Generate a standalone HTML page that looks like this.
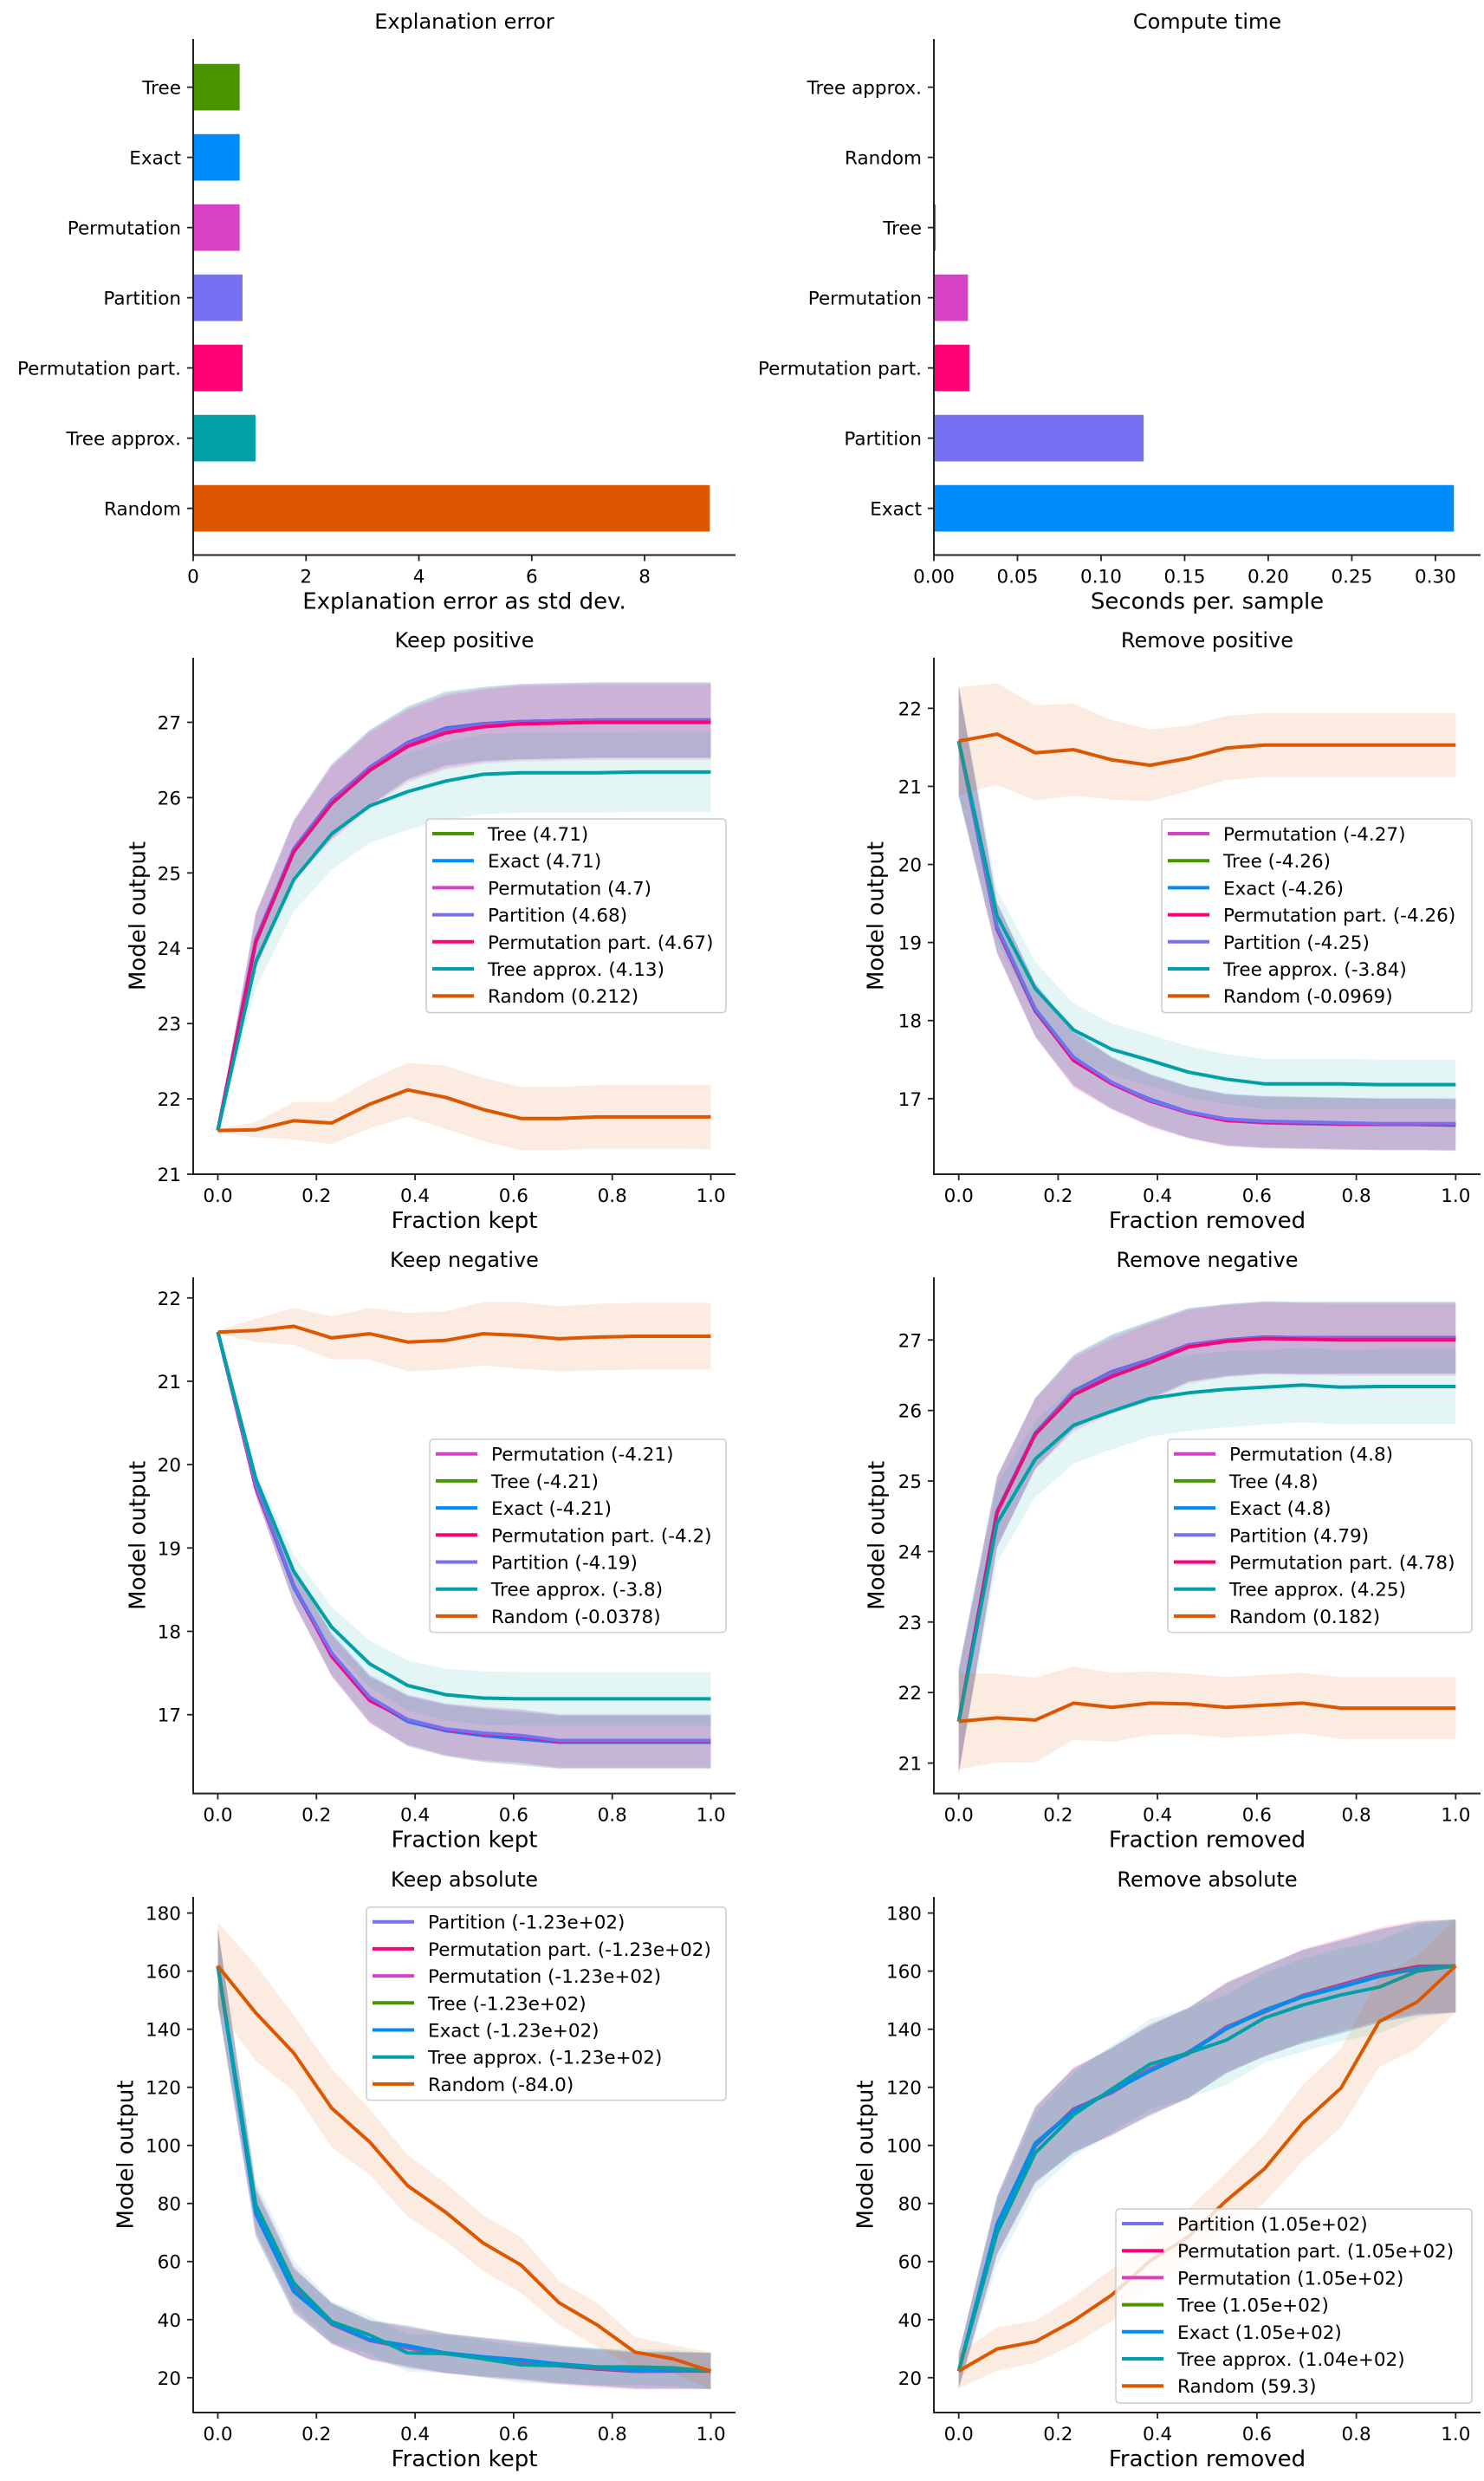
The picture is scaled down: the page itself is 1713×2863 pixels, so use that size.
<!DOCTYPE html>
<html><head><meta charset="utf-8"><style>
html,body{margin:0;padding:0;background:#fff;}
svg{display:block;font-family:"DejaVu Sans","Liberation Sans",sans-serif;}
</style></head><body>
<svg id="fig" width="1713" height="2863" viewBox="0 0 1713 2863" xmlns="http://www.w3.org/2000/svg"></svg>
<script>
// ---------- data ----------
const COLORS = {"Tree":"#489500","Exact":"#008bfb","Permutation":"#d642c3","Partition":"#7571f2","Permutation part.":"#ff0077","Tree approx.":"#00a0a8","Random":"#dd5700"};
const errCats = ["Tree","Exact","Permutation","Partition","Permutation part.","Tree approx.","Random"];
const errVals = [0.83,0.83,0.83,0.88,0.88,1.11,9.16];
const errTicks = [0,2,4,6,8];
const timeCats = ["Tree approx.","Random","Tree","Permutation","Permutation part.","Partition","Exact"];
const timeVals = [0.0003,0.0002,0.0013,0.0206,0.0214,0.1257,0.3113];
const timeTicks = [0,0.05,0.10,0.15,0.20,0.25,0.30];
const timeTickLabels = ["0.00","0.05","0.10","0.15","0.20","0.25","0.30"];
const fracX = [0,0.077,0.154,0.231,0.308,0.385,0.462,0.538,0.615,0.692,0.769,0.846,0.923,1.0];
const fracTicks = [0,0.2,0.4,0.6,0.8,1.0];
const fracTickLabels = ["0.0","0.2","0.4","0.6","0.8","1.0"];

// Keep positive
const kpTree = [21.58,24.11,25.31,25.95,26.40,26.73,26.92,26.98,27.01,27.02,27.03,27.03,27.03,27.03];
const kpExact = [21.58,24.11,25.31,25.95,26.40,26.73,26.92,26.98,27.01,27.02,27.03,27.03,27.03,27.03];
const kpPerm = [21.58,24.10,25.30,25.94,26.38,26.70,26.88,26.96,27.00,27.01,27.02,27.02,27.02,27.02];
const kpPart = [21.58,24.12,25.32,25.97,26.40,26.72,26.90,26.97,27.01,27.02,27.03,27.03,27.03,27.03];
const kpPermPart = [21.58,24.08,25.28,25.92,26.36,26.68,26.86,26.94,26.98,26.99,27.00,27.00,27.00,27.00];
const kpApprox = [21.58,23.82,24.91,25.52,25.89,26.08,26.22,26.31,26.33,26.33,26.33,26.34,26.34,26.34];
const kpRandom = [21.58,21.59,21.71,21.68,21.93,22.12,22.02,21.86,21.74,21.74,21.76,21.76,21.76,21.76];
const kpMainStd = [0.02,0.36,0.39,0.49,0.50,0.48,0.49,0.49,0.50,0.50,0.50,0.50,0.50,0.50];
const kpApproxStd = [0.02,0.35,0.42,0.48,0.49,0.51,0.52,0.53,0.53,0.53,0.53,0.53,0.53,0.53];
const kpRandomStd = [0.02,0.10,0.25,0.28,0.32,0.36,0.42,0.42,0.42,0.42,0.42,0.42,0.42,0.43];
const kpLabels = ["Tree (4.71)","Exact (4.71)","Permutation (4.7)","Partition (4.68)","Permutation part. (4.67)","Tree approx. (4.13)","Random (0.212)"];

// Remove positive
const rpTree = [21.58,19.19,18.14,17.52,17.20,16.99,16.83,16.73,16.70,16.69,16.68,16.67,16.67,16.66];
const rpExact = [21.58,19.19,18.14,17.52,17.20,16.99,16.83,16.73,16.70,16.69,16.68,16.67,16.67,16.66];
const rpPerm = [21.58,19.17,18.12,17.50,17.19,16.97,16.82,16.72,16.69,16.68,16.67,16.67,16.67,16.67];
const rpPart = [21.58,19.20,18.15,17.53,17.21,16.98,16.83,16.74,16.71,16.70,16.69,16.68,16.68,16.68];
const rpPermPart = [21.58,19.18,18.13,17.49,17.19,16.97,16.82,16.72,16.70,16.69,16.68,16.67,16.67,16.67];
const rpApprox = [21.58,19.34,18.41,17.88,17.63,17.49,17.34,17.25,17.19,17.19,17.19,17.18,17.18,17.18];
const rpRandom = [21.58,21.67,21.43,21.47,21.34,21.27,21.36,21.49,21.53,21.53,21.53,21.53,21.53,21.53];
const rpMainStd = [0.70,0.32,0.34,0.35,0.33,0.33,0.33,0.33,0.33,0.33,0.33,0.33,0.33,0.33];
const rpApproxStd = [0.70,0.33,0.34,0.34,0.33,0.33,0.33,0.32,0.32,0.32,0.32,0.32,0.32,0.32];
const rpRandomStd = [0.69,0.65,0.61,0.59,0.51,0.46,0.42,0.41,0.41,0.41,0.41,0.41,0.41,0.41];
const rpLabels = ["Permutation (-4.27)","Tree (-4.26)","Exact (-4.26)","Permutation part. (-4.26)","Partition (-4.25)","Tree approx. (-3.84)","Random (-0.0969)"];

// Keep negative
const knTree = [21.59,19.73,18.53,17.72,17.19,16.92,16.81,16.75,16.71,16.67,16.67,16.67,16.67,16.67];
const knExact = [21.59,19.73,18.53,17.72,17.19,16.92,16.81,16.75,16.71,16.67,16.67,16.67,16.67,16.67];
const knPerm = [21.59,19.73,18.54,17.71,17.18,16.93,16.82,16.76,16.73,16.68,16.68,16.68,16.68,16.68];
const knPart = [21.59,19.75,18.55,17.74,17.21,16.94,16.83,16.78,16.75,16.69,16.69,16.69,16.69,16.69];
const knPermPart = [21.59,19.72,18.55,17.70,17.17,16.94,16.82,16.77,16.74,16.68,16.68,16.68,16.68,16.68];
const knApprox = [21.59,19.83,18.72,18.05,17.61,17.35,17.24,17.20,17.19,17.19,17.19,17.19,17.19,17.19];
const knRandom = [21.59,21.61,21.66,21.52,21.57,21.47,21.49,21.57,21.55,21.51,21.53,21.54,21.54,21.54];
const knMainStd = [0.02,0.10,0.20,0.25,0.28,0.30,0.31,0.32,0.32,0.32,0.32,0.32,0.32,0.32];
const knApproxStd = [0.02,0.10,0.20,0.24,0.28,0.30,0.31,0.32,0.32,0.32,0.32,0.32,0.32,0.32];
const knRandomStd = [0.02,0.14,0.22,0.26,0.31,0.35,0.35,0.38,0.40,0.39,0.40,0.40,0.40,0.40];
const knLabels = ["Permutation (-4.21)","Tree (-4.21)","Exact (-4.21)","Permutation part. (-4.2)","Partition (-4.19)","Tree approx. (-3.8)","Random (-0.0378)"];

// Remove negative
const rnTree = [21.59,24.57,25.68,26.27,26.55,26.72,26.93,27.00,27.04,27.03,27.03,27.03,27.03,27.03];
const rnExact = [21.59,24.57,25.68,26.27,26.55,26.72,26.93,27.00,27.04,27.03,27.03,27.03,27.03,27.03];
const rnPerm = [21.59,24.56,25.67,26.25,26.52,26.70,26.92,26.99,27.03,27.02,27.02,27.02,27.02,27.02];
const rnPart = [21.59,24.57,25.68,26.26,26.54,26.71,26.93,27.00,27.03,27.03,27.03,27.03,27.03,27.03];
const rnPermPart = [21.59,24.55,25.66,26.22,26.48,26.68,26.90,26.98,27.02,27.01,27.00,27.00,27.00,27.00];
const rnApprox = [21.59,24.40,25.31,25.79,25.99,26.17,26.25,26.30,26.33,26.36,26.33,26.34,26.34,26.34];
const rnRandom = [21.59,21.64,21.61,21.85,21.79,21.85,21.84,21.79,21.82,21.85,21.78,21.78,21.78,21.78];
const rnMainStd = [0.74,0.50,0.50,0.52,0.53,0.55,0.52,0.51,0.51,0.51,0.51,0.51,0.51,0.51];
const rnApproxStd = [0.70,0.55,0.54,0.54,0.54,0.54,0.54,0.54,0.53,0.53,0.53,0.53,0.53,0.53];
const rnRandomStd = [0.68,0.63,0.60,0.52,0.49,0.45,0.43,0.43,0.43,0.43,0.44,0.44,0.44,0.44];
const rnLabels = ["Permutation (4.8)","Tree (4.8)","Exact (4.8)","Partition (4.79)","Permutation part. (4.78)","Tree approx. (4.25)","Random (0.182)"];

// Keep absolute
const kaTree = [161.8,76.7,49.9,38.9,33.1,31.0,28.5,27.2,26.1,24.7,23.7,22.6,22.6,22.3];
const kaExact = [161.8,76.7,49.9,38.9,33.1,31.0,28.5,27.2,26.1,24.7,23.7,22.6,22.6,22.3];
const kaPerm = [161.8,77.5,50.5,38.6,32.8,30.2,28.2,26.8,25.6,24.3,23.3,22.4,22.4,22.3];
const kaPart = [161.8,76.2,49.6,38.7,33.0,30.8,28.4,27.1,26.0,24.6,23.6,22.8,22.7,22.3];
const kaPermPart = [161.8,78.0,50.8,38.4,32.9,30.4,28.3,26.9,25.5,24.1,23.0,22.2,22.3,22.3];
const kaApprox = [161.8,79.5,52.6,39.3,34.7,28.5,28.3,26.5,24.4,24.1,23.7,23.7,23.4,22.3];
const kaRandom = [161.8,145.6,131.8,112.8,101.2,86.1,77.0,66.4,58.8,45.8,38.2,28.8,26.5,22.3];
const kaMainStd = [13,8,7.6,7,6.7,7,6.8,6.7,6.5,6.5,6.4,6.3,6.3,6.2];
const kaApproxStd = [13,8.5,7.8,7,6.5,6.5,6.5,6.4,6.3,6.3,6.3,6.2,6.2,6.2];
const kaRandomStd = [15,16.5,13,13.5,11.3,10.6,10,9.6,9.7,7.5,7.6,5.3,4.8,6.5];
const kaLabels = ["Partition (-1.23e+02)","Permutation part. (-1.23e+02)","Permutation (-1.23e+02)","Tree (-1.23e+02)","Exact (-1.23e+02)","Tree approx. (-1.23e+02)","Random (-84.0)"];

// Remove absolute
const raTree = [22.3,72.6,100.4,111.8,118.7,125.6,131.8,140.1,146.3,151.1,154.5,158.2,161.0,161.8];
const raExact = [22.3,72.6,100.4,111.8,118.7,125.6,131.8,140.1,146.3,151.1,154.5,158.2,161.0,161.8];
const raPerm = [22.3,72.0,100.0,112.2,118.4,126.4,131.5,140.8,146.0,151.4,155.0,158.6,160.6,161.8];
const raPart = [22.3,72.9,100.8,112.0,118.9,125.9,132.1,140.4,146.6,151.3,154.7,158.4,161.2,161.8];
const raPermPart = [22.3,72.3,99.8,112.5,118.2,126.2,131.6,140.6,145.9,151.6,155.3,159.0,161.6,161.8];
const raApprox = [22.3,69.8,97.4,110.5,119.4,128.0,131.8,136.2,143.9,148.3,151.8,154.5,160.0,161.8];
const raRandom = [22.3,29.9,32.4,39.6,48.5,60.2,68.5,80.9,91.9,107.7,119.7,142.6,149.4,161.8];
const raMainStd = [6,10,13,14.5,15,15.5,15.5,15.5,15.5,16,16,16,16,16];
const raApproxStd = [6,11,13.5,14.5,15,15.5,15.5,15.5,15.5,16,16,16,16,16];
const raRandomStd = [6,7.5,7.2,8.2,9,8.3,9.6,9.6,11.7,13.1,13.5,15.6,16,16];
const raLabels = ["Partition (1.05e+02)","Permutation part. (1.05e+02)","Permutation (1.05e+02)","Tree (1.05e+02)","Exact (1.05e+02)","Tree approx. (1.04e+02)","Random (59.3)"];

// ---------- drawing ----------
const NS = "http://www.w3.org/2000/svg";
const svg = document.getElementById("fig");
function mk(tag, attrs, parent){
  const e = document.createElementNS(NS, tag);
  for (const k in attrs) e.setAttribute(k, attrs[k]);
  (parent||svg).appendChild(e);
  return e;
}
function txt(s, attrs, parent){ const t = mk("text", attrs, parent); t.textContent = s; return t; }
const AX = "#222";

function axes(g, L, R, T, B, title, xlabel, ylabel, ylabX){
  const yl = mk("line",{x1:L,y1:T,x2:L,y2:B,stroke:AX,"stroke-width":2},g);
  
  
  const xl = mk("line",{x1:L-1,y1:B,x2:R,y2:B,stroke:AX,"stroke-width":2},g);
  
  
  const t = txt(title,{x:(L+R)/2,y:T-12,"text-anchor":"middle","font-size":24,fill:"#000"},g);
  
  
  const xt = txt(xlabel,{x:(L+R)/2,y:B+62,"text-anchor":"middle","font-size":26,fill:"#000"},g);
  
  
  if (ylabel){
    const cy=(T+B)/2;
    const yt = txt(ylabel,{x:ylabX,y:cy,"text-anchor":"middle","font-size":26,fill:"#000",transform:`rotate(-90 ${ylabX} ${cy})`,"dominant-baseline":"middle"},g);
    
    
  }
}
function xTick(g, px, B, label){
  const l = mk("line",{x1:px,y1:B,x2:px,y2:B+7,stroke:AX,"stroke-width":1.8},g);
  
  
  const t = txt(label,{x:px,y:B+32,"text-anchor":"middle","font-size":21.5,fill:"#000"},g);
  
  
}
function yTick(g, L, py, label){
  const l = mk("line",{x1:L-7,y1:py,x2:L,y2:py,stroke:AX,"stroke-width":1.8},g);
  
  
  const t = txt(label,{x:L-14,y:py+8,"text-anchor":"end","font-size":21.5,fill:"#000"},g);
  
  
}

function barChart(cfg){
  const g = mk("g",{});
  
  
  const {L,R,T,B,xmax} = cfg;
  const xs = v => L + v/xmax*(R-L);
  const c0 = 100.6 + cfg.T - 45, step = 81, h = 54.5;
  cfg.cats.forEach((c,i)=>{
    const cy = c0 + i*step;
    const r = mk("rect",{x:L,y:cy-h/2,width:Math.max(xs(cfg.vals[i])-L,0.01),height:h,fill:COLORS[c],stroke:"#fff","stroke-width":0.8},g);
    
    
    yTick(g,L,cy,c);
  });
  cfg.ticks.forEach((v,i)=>xTick(g,xs(v),B,cfg.tickLabels[i]));
  axes(g,L,R,T,B,cfg.title,cfg.xlabel,null,0);
}

function lineChart(cfg){
  const g = mk("g",{});
  
  
  const {L,R,T,B,ymin,ymax} = cfg;
  const xs = v => L + (v+0.05)/1.1*(R-L);
  const ys = v => B - (v-ymin)/(ymax-ymin)*(B-T);
  const clip = mk("clipPath",{id:"clip-"+cfg.name},g);
  mk("rect",{x:L,y:T,width:R-L,height:B-T},clip);
  const plot = mk("g",{"clip-path":`url(#clip-${cfg.name})`},g);
  cfg.series.forEach(s=>{
    const col = COLORS[s.method];
    const up = fracX.map((x,i)=>xs(x).toFixed(1)+","+ys(s.mean[i]+s.std[i]).toFixed(1));
    const lo = fracX.map((x,i)=>xs(x).toFixed(1)+","+ys(s.mean[i]-s.std[i]).toFixed(1)).reverse();
    const band = mk("polygon",{points:up.concat(lo).join(" "),fill:col,"fill-opacity":s.method==="Random"?0.12:0.11,stroke:"none"},plot);
    
    
    const pts = fracX.map((x,i)=>xs(x).toFixed(1)+","+ys(s.mean[i]).toFixed(1)).join(" ");
    const ln = mk("polyline",{points:pts,fill:"none",stroke:col,"stroke-width":4,"stroke-linejoin":"round"},plot);
    
    
  });
  cfg.yticks.forEach(v=>yTick(g,L,ys(v),String(v)));
  fracTicks.forEach((v,i)=>xTick(g,xs(v),B,fracTickLabels[i]));
  axes(g,L,R,T,B,cfg.title,cfg.xlabel,"Model output",cfg.ylabX);
  // legend
  const lg = mk("g",{},g);
  
  
  const [x1,y1,x2,y2] = cfg.legend;
  mk("rect",{x:x1,y:y1,width:x2-x1,height:y2-y1,rx:4,fill:"#fff","fill-opacity":0.8,stroke:"#cccccc","stroke-width":1.5},lg);
  cfg.series.forEach((s,i)=>{
    const ey = y1 + 17 + i*31.2;
    const e = mk("g",{},lg);
    
    
    mk("line",{x1:x1+7,y1:ey,x2:x1+55,y2:ey,stroke:COLORS[s.method],"stroke-width":4},e);
    txt(s.label,{x:x1+71,y:ey+8,"font-size":21.5,fill:"#000"},e);
  });
}

barChart({name:"explanation-error-chart",L:223,R:849,T:45,B:640.5,xmax:9.61,cats:errCats,vals:errVals,ticks:errTicks,tickLabels:errTicks.map(String),title:"Explanation error",xlabel:"Explanation error as std dev."});
barChart({name:"compute-time-chart",L:1078,R:1709,T:45,B:640.5,xmax:0.327,cats:timeCats,vals:timeVals,ticks:timeTicks,tickLabels:timeTickLabels,title:"Compute time",xlabel:"Seconds per. sample"});

function ser(methods, arrs, stds, labels){
  return methods.map((m,i)=>({method:m,mean:arrs[i],std:stds[i],label:labels[i]}));
}
const LC={L:223,R:849}, RC={L:1078,R:1709};
lineChart(Object.assign({name:"keep-positive-chart",T:759,B:1355,ymin:21,ymax:27.857,yticks:[21,22,23,24,25,26,27],title:"Keep positive",xlabel:"Fraction kept",ylabX:160,legend:[492,945,838,1168.5],
  series:ser(["Tree","Exact","Permutation","Partition","Permutation part.","Tree approx.","Random"],[kpTree,kpExact,kpPerm,kpPart,kpPermPart,kpApprox,kpRandom],[kpMainStd,kpMainStd,kpMainStd,kpMainStd,kpMainStd,kpApproxStd,kpRandomStd],kpLabels)},LC));
lineChart(Object.assign({name:"remove-positive-chart",T:759,B:1355,ymin:16.032,ymax:22.648,yticks:[17,18,19,20,21,22],title:"Remove positive",xlabel:"Fraction removed",ylabX:1012,legend:[1341,945,1699,1168.5],
  series:ser(["Permutation","Tree","Exact","Permutation part.","Partition","Tree approx.","Random"],[rpPerm,rpTree,rpExact,rpPermPart,rpPart,rpApprox,rpRandom],[rpMainStd,rpMainStd,rpMainStd,rpMainStd,rpMainStd,rpApproxStd,rpRandomStd],rpLabels)},RC));
lineChart(Object.assign({name:"keep-negative-chart",T:1474,B:2069.6,ymin:16.055,ymax:22.247,yticks:[17,18,19,20,21,22],title:"Keep negative",xlabel:"Fraction kept",ylabX:160,legend:[496,1660.7,838,1883.6],
  series:ser(["Permutation","Tree","Exact","Permutation part.","Partition","Tree approx.","Random"],[knPerm,knTree,knExact,knPermPart,knPart,knApprox,knRandom],[knMainStd,knMainStd,knMainStd,knMainStd,knMainStd,knApproxStd,knRandomStd],knLabels)},LC));
lineChart(Object.assign({name:"remove-negative-chart",T:1474,B:2069.6,ymin:20.569,ymax:27.888,yticks:[21,22,23,24,25,26,27],title:"Remove negative",xlabel:"Fraction removed",ylabX:1013,legend:[1348,1660.7,1699,1883.6],
  series:ser(["Permutation","Tree","Exact","Partition","Permutation part.","Tree approx.","Random"],[rnPerm,rnTree,rnExact,rnPart,rnPermPart,rnApprox,rnRandom],[rnMainStd,rnMainStd,rnMainStd,rnMainStd,rnMainStd,rnApproxStd,rnRandomStd],rnLabels)},RC));
lineChart(Object.assign({name:"keep-absolute-chart",T:2189,B:2784,ymin:8.0,ymax:185.55,yticks:[20,40,60,80,100,120,140,160,180],title:"Keep absolute",xlabel:"Fraction kept",ylabX:146,legend:[423,2200.7,838,2423.6],
  series:ser(["Partition","Permutation part.","Permutation","Tree","Exact","Tree approx.","Random"],[kaPart,kaPermPart,kaPerm,kaTree,kaExact,kaApprox,kaRandom],[kaMainStd,kaMainStd,kaMainStd,kaMainStd,kaMainStd,kaApproxStd,kaRandomStd],kaLabels)},LC));
lineChart(Object.assign({name:"remove-absolute-chart",T:2189,B:2784,ymin:8.0,ymax:185.55,yticks:[20,40,60,80,100,120,140,160,180],title:"Remove absolute",xlabel:"Fraction removed",ylabX:1000,legend:[1288,2549,1699,2773],
  series:ser(["Partition","Permutation part.","Permutation","Tree","Exact","Tree approx.","Random"],[raPart,raPermPart,raPerm,raTree,raExact,raApprox,raRandom],[raMainStd,raMainStd,raMainStd,raMainStd,raMainStd,raApproxStd,raRandomStd],raLabels)},RC));
</script>
</body></html>
